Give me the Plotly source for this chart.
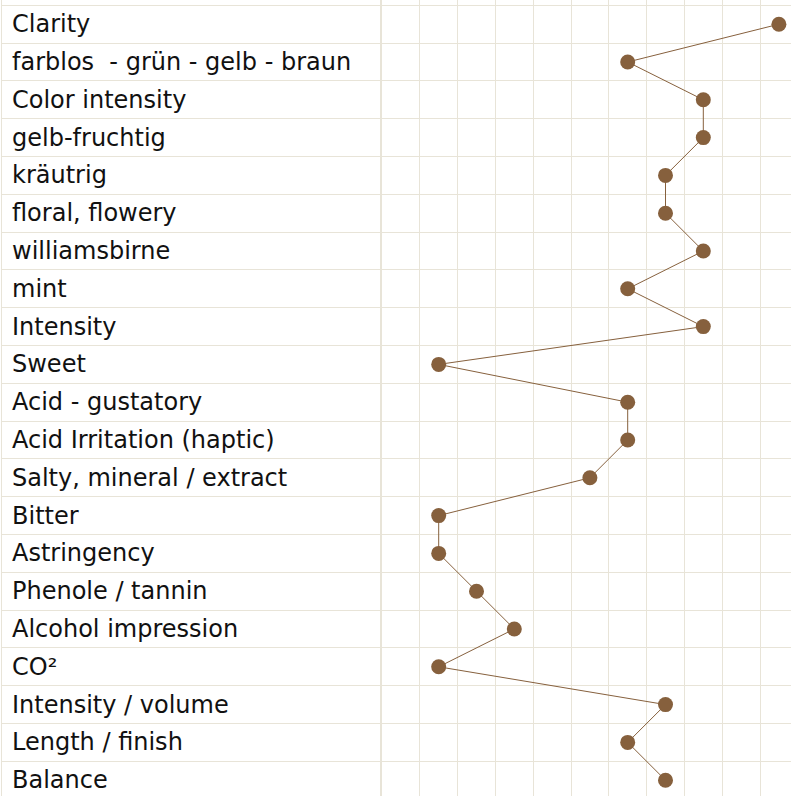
import plotly.graph_objects as go

categories = [
    "Clarity", "farblos  - grün - gelb - braun", "Color intensity", "gelb-fruchtig",
    "kräutrig", "floral, flowery", "williamsbirne", "mint", "Intensity", "Sweet",
    "Acid - gustatory", "Acid Irritation (haptic)", "Salty, mineral / extract", "Bitter",
    "Astringency", "Phenole / tannin", "Alcohol impression", "CO²", "Intensity / volume",
    "Length / finish", "Balance",
]
scores = [11, 7, 9, 9, 8, 8, 9, 7, 9, 2, 7, 7, 6, 2, 2, 3, 4, 2, 8, 7, 8]

W, H = 791, 796
row_pos = list(range(len(categories)))
GRID = "#e8e4d8"
BROWN = "#86603d"
L = 2
PW = W - L
split = (382 - L) / PW
label_off = -10 / 370
col_w = 37.8

fig = go.Figure()

# invisible anchor trace for the label column
fig.add_trace(go.Scatter(
    x=[0] * len(categories), y=row_pos, mode="markers", marker=dict(opacity=0),
    xaxis="x", yaxis="y", hoverinfo="skip", showlegend=False,
))

# data line
fig.add_trace(go.Scatter(
    x=scores, y=row_pos, mode="lines+markers",
    line=dict(color=BROWN, width=1),
    marker=dict(color=BROWN, size=15),
    xaxis="x2", yaxis="y2", showlegend=False, cliponaxis=False,
))

for cat, yp in zip(categories, row_pos):
    fig.add_annotation(
        x=0, y=yp, xref="x", yref="y", text=cat.replace("  ", "\u00a0 "),
        showarrow=False, xanchor="left", yanchor="middle", xshift=-2, yshift=0,
        font=dict(family="DejaVu Sans", size=24, color="#111111"),
    )

yrange = [(H - 24.2) / col_w, -24.2 / col_w]

fig.update_layout(
    width=W, height=H,
    margin=dict(l=L, r=0, t=0, b=0),
    paper_bgcolor="white", plot_bgcolor="white",
    xaxis=dict(domain=[0, split], range=[label_off, 1], showgrid=False, zeroline=False,
               showticklabels=False, showline=False),
    yaxis=dict(range=yrange, tick0=-0.5, dtick=1, showgrid=True, gridcolor=GRID, gridwidth=1,
               zeroline=False, showticklabels=False, showline=True, linecolor=GRID, linewidth=1,
               anchor="x"),
    xaxis2=dict(domain=[split, 1], range=[0.5, 0.5 + (W - 382) / col_w], tick0=0.5, dtick=1,
                showgrid=True, gridcolor=GRID, gridwidth=1, zeroline=False,
                showticklabels=False, showline=False, anchor="y2"),
    yaxis2=dict(range=yrange, tick0=-0.5, dtick=1, showgrid=True, gridcolor=GRID, gridwidth=1,
                zeroline=False, showticklabels=False, showline=True, linecolor=GRID, linewidth=2,
                anchor="x2", matches="y"),
)

fig.write_html("out.html", config={"displayModeBar": False},
               post_script="document.body.style.margin='0';")
